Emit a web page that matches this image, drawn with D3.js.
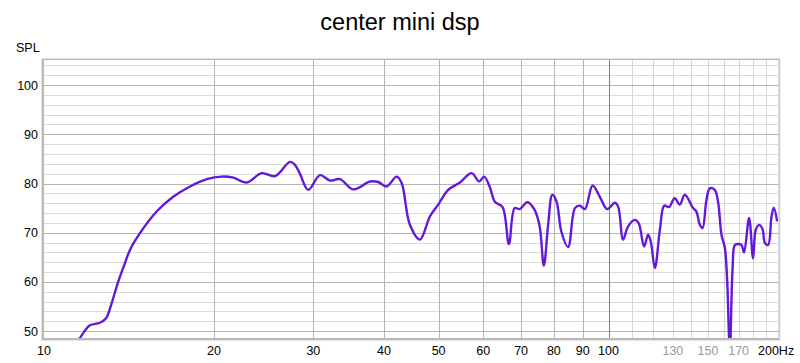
<!DOCTYPE html>
<html>
<head>
<meta charset="utf-8">
<script src="https://cdn.jsdelivr.net/npm/d3@7"></script>
<style>
  body { margin: 0; background: #fff; }
  text { font-family: "Liberation Sans", Arial, sans-serif; }
</style>
</head>
<body>
<svg id="chart" width="800" height="363"></svg>
<script>
// frequency response
var freqs = [11.45, 11.6, 11.8, 12.06, 12.56, 12.88, 13.18, 13.54, 13.91, 14.2, 14.79, 15.83, 16.94, 18.14, 19.42,
  20.64, 21.64, 22.86, 24.3, 25.65, 27.27, 27.83, 28.4, 29.38, 30.82, 32.1, 33.44, 35.3, 37.8, 39.08, 40.45,
  42.13, 43.0, 44.48, 46.33, 48.26, 49.92, 52.0, 54.54, 57.2, 59.0, 60.2, 61.6, 62.9, 64.9, 66.6, 68.2, 69.6,
  71.8, 74.0, 75.5, 76.8, 78.2, 79.5, 80.9, 82.5, 84.8, 87.2, 88.9, 90.8, 93.7, 96.5, 99.4, 102.6, 104.0,
  106.1, 108.3, 111.3, 113.1, 115.6, 117.5, 118.8, 120.8, 123.3, 125.5, 127.9, 131.0, 133.7, 136.5, 141.2,
  143.1, 145.1, 146.7, 149.1, 151.1, 154.2, 156.3, 158.5, 160.7, 162.2, 164.0, 165.8, 167.4, 169.7, 172.0,
  173.8, 177.4, 180.3, 182.3, 184.8, 187.4, 189.2, 191.7, 194.4, 196.2, 198.9];
var spl = [47.6, 48.7, 50.0, 51.2, 51.7, 52.6, 55.7, 60.1, 63.8, 66.5, 69.9, 74.3, 77.3, 79.4, 80.9,
  81.4, 81.2, 80.2, 82.1, 81.5, 84.4, 83.8, 82.0, 78.7, 81.7, 80.6, 80.9, 78.8, 80.4, 80.3, 79.4,
  81.4, 80.1, 71.6, 68.6, 73.3, 75.7, 78.7, 80.2, 82.1, 80.4, 81.4, 79.3, 76.3, 75.2, 67.7, 75.0, 74.8,
  76.2, 74.6, 71.3, 63.3, 71.9, 77.7, 76.3, 70.2, 67.1, 75.0, 75.5, 74.8, 79.6, 77.3, 74.8, 76.1, 75.3,
  68.6, 71.3, 72.6, 71.9, 67.2, 69.6, 68.2, 62.8, 70.6, 75.5, 75.2, 77.0, 75.7, 77.7, 75.0,
  74.3, 71.6, 70.9, 76.7, 79.0, 78.7, 76.3, 69.6, 66.9, 60.4, 46.0, 62.5, 67.5, 67.7, 67.5,
  66.0, 73.0, 64.8, 70.6, 71.6, 70.7, 67.9, 67.5, 73.3, 75.1, 72.3];

var title = "center mini dsp";
var yTicks = [50, 60, 70, 80, 90, 100];
var xTicksDark = [10, 20, 30, 40, 50, 60, 70, 80, 90, 100];
var xTicksLight = [130, 150, 170];
var xGridLow = [20, 30, 40, 50, 60, 70, 80, 90];
var xGridHigh = [110, 120, 130, 140, 150, 160, 170, 180, 190];

var svg = d3.select("#chart");
var plotLeft = 44, plotRight = 778.5, plotTop = 60, plotBottom = 338;

var xScale = d3.scaleLog().domain([10, 200]).range([plotLeft, plotRight]);
var yScale = d3.scaleLinear().domain([48.6, 105.1]).range([plotBottom, plotTop]);

// title
svg.append("text")
  .attr("x", 400).attr("y", 30)
  .attr("text-anchor", "middle")
  .attr("font-size", 23.5)
  .text(title);

svg.append("text")
  .attr("x", 16).attr("y", 52)
  .attr("font-size", 12.5)
  .text("SPL");

// frame shadow
svg.append("rect")
  .attr("x", plotLeft - 3).attr("y", plotTop - 2)
  .attr("width", plotRight - plotLeft + 5).attr("height", plotBottom - plotTop + 5)
  .attr("fill", "#e4e4e4");
svg.append("rect")
  .attr("x", plotLeft - 2).attr("y", plotTop - 1)
  .attr("width", plotRight - plotLeft + 3).attr("height", plotBottom - plotTop + 3)
  .attr("fill", "#b8b8b8");
svg.append("rect")
  .attr("x", plotLeft).attr("y", plotTop)
  .attr("width", plotRight - plotLeft).attr("height", plotBottom - plotTop)
  .attr("fill", "#fff");

var grid = svg.append("g");

// minor horizontal lines every 2 dB
var minorY = d3.range(50, 106, 2).filter(function(d) { return d % 10 != 0; });
grid.selectAll("line.minor-y")
  .data(minorY)
  .enter().append("line")
  .attr("x1", plotLeft).attr("x2", plotRight)
  .attr("y1", function(d) { return Math.round(yScale(d)) + 0.5; })
  .attr("y2", function(d) { return Math.round(yScale(d)) + 0.5; })
  .attr("stroke", "#dadada");

grid.selectAll("line.xhigh")
  .data(xGridHigh)
  .enter().append("line")
  .attr("x1", function(d) { return Math.round(xScale(d)) + 0.5; })
  .attr("x2", function(d) { return Math.round(xScale(d)) + 0.5; })
  .attr("y1", plotTop).attr("y2", plotBottom)
  .attr("stroke", "#d6d6d6");

grid.selectAll("line.major-y")
  .data(yTicks)
  .enter().append("line")
  .attr("x1", plotLeft).attr("x2", plotRight)
  .attr("y1", function(d) { return Math.round(yScale(d)) + 0.5; })
  .attr("y2", function(d) { return Math.round(yScale(d)) + 0.5; })
  .attr("stroke", "#b4b4b4");

grid.selectAll("line.xlow")
  .data(xGridLow)
  .enter().append("line")
  .attr("x1", function(d) { return Math.round(xScale(d)) + 0.5; })
  .attr("x2", function(d) { return Math.round(xScale(d)) + 0.5; })
  .attr("y1", plotTop).attr("y2", plotBottom)
  .attr("stroke", "#b4b4b4");

grid.append("line")
  .attr("x1", Math.round(xScale(100)) + 0.5).attr("x2", Math.round(xScale(100)) + 0.5)
  .attr("y1", plotTop).attr("y2", plotBottom)
  .attr("stroke", "#808080");

// curve
svg.append("clipPath").attr("id", "plot-clip")
  .append("rect")
  .attr("x", plotLeft).attr("y", plotTop)
  .attr("width", plotRight - plotLeft).attr("height", plotBottom - plotTop);

var points = freqs.map(function(f, i) { return [f, spl[i]]; });
var line = d3.line()
  .x(function(d) { return xScale(d[0]); })
  .y(function(d) { return yScale(d[1]); })
  .curve(d3.curveCatmullRom.alpha(0.5));

svg.append("path")
  .datum(points)
  .attr("clip-path", "url(#plot-clip)")
  .attr("d", line)
  .attr("fill", "none")
  .attr("stroke", "#6418dc")
  .attr("stroke-width", 2.4)
  .attr("stroke-linejoin", "round");

// tick labels
svg.selectAll("text.ylab")
  .data(yTicks)
  .enter().append("text")
  .attr("x", 38)
  .attr("y", function(d) { return yScale(d) + 4.5; })
  .attr("text-anchor", "end")
  .attr("font-size", 12.5)
  .text(function(d) { return d; });

svg.selectAll("text.xlab")
  .data(xTicksDark)
  .enter().append("text")
  .attr("x", function(d) { return xScale(d); })
  .attr("y", 355)
  .attr("text-anchor", "middle")
  .attr("font-size", 12.5)
  .attr("fill", "#000")
  .text(function(d) { return d; });

svg.selectAll("text.xlab2")
  .data(xTicksLight)
  .enter().append("text")
  .attr("x", function(d) { return xScale(d); })
  .attr("y", 355)
  .attr("text-anchor", "middle")
  .attr("font-size", 12.5)
  .attr("fill", "#999")
  .text(function(d) { return d; });

svg.append("text")
  .attr("x", 758).attr("y", 355)
  .attr("font-size", 12.5)
  .text("200Hz");
</script>
</body>
</html>
